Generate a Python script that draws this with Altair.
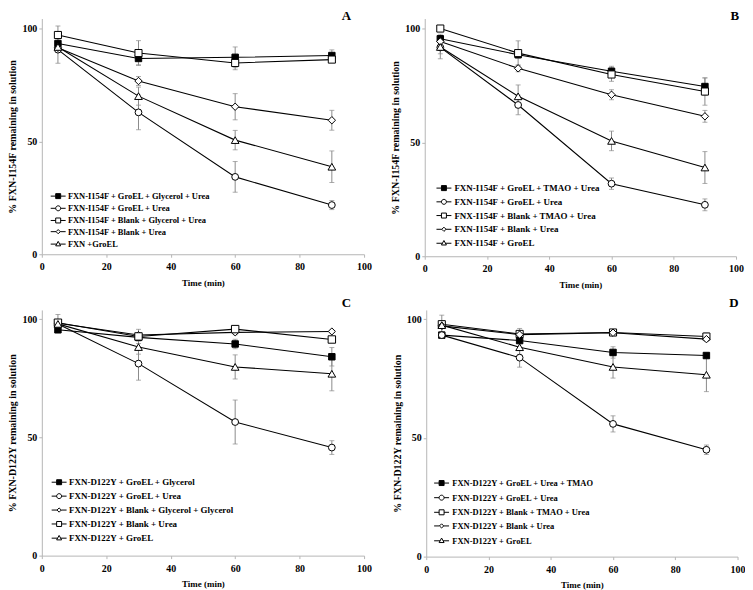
import altair as alt
import pandas as pd

times = [5, 30, 60, 90]

# ---------------- Panel A ----------------
a_series = ["FXN-I154F + GroEL + Glycerol + Urea", "FXN-I154F + GroEL + Urea",
            "FXN-I154F + Blank + Glycerol + Urea", "FXN-I154F + Blank + Urea", "FXN +GroEL"]
a_markers = ["fsq", "circle", "osq", "diamond", "triangle"]
a_values = [
    [93.4, 86.8, 87.3, 88.1],
    [90.7, 62.9, 34.3, 21.8],
    [97.2, 89.2, 84.8, 86.3],
    [91.5, 76.8, 65.4, 59.4],
    [91.9, 70.1, 50.6, 38.8],
]
a_errors = [
    [2.0, 2.8, 4.6, 2.5],
    [6.0, 7.7, 6.8, 2.0],
    [4.0, 5.5, 3.0, 1.0],
    [2.0, 2.0, 5.8, 4.4],
    [2.0, 4.0, 4.3, 7.0],
]

# ---------------- Panel B ----------------
b_series = ["FXN-I154F + GroEL + TMAO + Urea", "FXN-I154F + GroEL + Urea",
            "FNX-I154F + Blank + TMAO + Urea", "FXN-I154F + Blank + Urea", "FXN-I154F + GroEL"]
b_markers = ["fsq", "circle", "osq", "diamond", "triangle"]
b_values = [
    [95.6, 88.6, 81.3, 74.6],
    [91.8, 66.5, 31.9, 22.6],
    [100.1, 89.3, 79.9, 72.4],
    [94.4, 82.6, 71.0, 61.5],
    [92.0, 70.3, 50.7, 39.0],
]
b_errors = [
    [2.0, 1.5, 2.2, 3.8],
    [5.0, 4.3, 2.5, 2.6],
    [1.0, 5.4, 3.0, 6.0],
    [2.0, 1.5, 2.2, 2.6],
    [3.0, 5.0, 4.3, 7.0],
]

# ---------------- Panel C ----------------
c_series = ["FXN-D122Y + GroEL + Glycerol", "FXN-D122Y + GroEL + Urea",
            "FXN-D122Y + Blank + Glycerol + Glycerol", "FXN-D122Y + Blank + Urea", "FXN-D122Y + GroEL"]
c_markers = ["fsq", "circle", "diamond", "osq", "triangle"]
c_values = [
    [95.5, 92.3, 89.5, 84.1],
    [98.0, 81.2, 56.5, 45.7],
    [98.3, 93.3, 94.4, 94.8],
    [98.5, 92.7, 95.8, 91.4],
    [98.0, 88.2, 79.8, 76.9],
]
c_errors = [
    [1.0, 1.5, 2.0, 3.9],
    [1.5, 7.0, 9.3, 2.9],
    [1.0, 1.0, 1.0, 0.5],
    [3.5, 3.0, 1.0, 1.0],
    [1.5, 3.0, 5.1, 7.2],
]

# ---------------- Panel D ----------------
d_series = ["FXN-D122Y + GroEL + Urea + TMAO", "FXN-D122Y + GroEL + Urea",
            "FXN-D122Y + Blank + TMAO + Urea", "FXN-D122Y + Blank + Urea", "FXN-D122Y + GroEL"]
d_markers = ["fsq", "circle", "osq", "diamond", "triangle"]
d_values = [
    [93.3, 91.0, 86.0, 84.7],
    [93.3, 83.8, 55.9, 45.0],
    [97.9, 93.8, 94.4, 92.7],
    [97.2, 93.5, 94.3, 91.6],
    [97.5, 88.2, 79.9, 76.6],
]
d_errors = [
    [1.0, 1.0, 2.4, 1.0],
    [1.0, 4.0, 3.4, 2.0],
    [3.8, 2.3, 1.0, 1.5],
    [1.0, 1.0, 1.0, 1.0],
    [1.0, 3.0, 4.7, 7.1],
]

# ---------------- styles ----------------
FONT = "Liberation Serif"
SHAPE = {"fsq": "square", "osq": "square", "circle": "circle",
         "diamond": "diamond", "triangle": "triangle-up"}
FILL = {"fsq": "black", "osq": "white", "circle": "white",
        "diamond": "white", "triangle": "white"}
SIZE = {"fsq": 42, "osq": 42, "circle": 60, "diamond": 52, "triangle": 49}
LEG_PATH = {
    "fsq": "M-3,0H-1M1,0H3M-1,-1H1V1H-1Z",
    "osq": "M-3,0H-1M1,0H3M-1,-1H1V1H-1Z",
    "circle": "M-3,0H-1M1,0H3M-1,0A1,1,0,1,1,1,0A1,1,0,1,1,-1,0Z",
    "diamond": "M-3,0H-0.85M0.85,0H3M0,-0.85L0.85,0L0,0.85L-0.85,0Z",
    "triangle": "M-3,0.1H-0.6M0.6,0.1H3M0,-1L1,0.8L-1,0.8Z",
}
AXIS_GRAY = "#b5b5b5"
ERR_GRAY = "#8a8a8a"


def panel(series, markers, values, errors, letter, ytitle, w, h, ymax,
          lx, ly, lfont, lrowpad, loff, ldx, ldy, lbase):
    rows = []
    for s, vals, errs in zip(series, values, errors):
        for t, v, e in zip(times, vals, errs):
            rows.append({"series": s, "time": t, "value": v, "lo": v - e, "hi": v + e})
    df = pd.DataFrame(rows)

    xenc = alt.X("time:Q", title="Time (min)",
                 scale=alt.Scale(domain=[0, 100], nice=False),
                 axis=alt.Axis(values=[0, 20, 40, 60, 80, 100], titleFontSize=9,
                               labelFlush=False, labelPadding=4.5, titlePadding=7))
    yscale = alt.Scale(domain=[0, ymax], nice=False)
    yaxis = alt.Axis(values=[0, 50, 100], titleFontSize=10, labelPadding=2, titlePadding=4)

    base = alt.Chart(df)
    err = base.mark_errorbar(ticks=True, size=5, thickness=1, color=ERR_GRAY).encode(
        x=xenc,
        y=alt.Y("lo:Q", title=ytitle, scale=yscale, axis=yaxis),
        y2=alt.Y2("hi:Q"),
        detail="series:N",
    )
    lines = base.mark_line(color="black", strokeWidth=1.1).encode(
        x=xenc,
        y=alt.Y("value:Q", title=ytitle, scale=yscale, axis=yaxis),
        detail="series:N",
    )
    points = base.mark_point(filled=True, opacity=1, stroke="black", strokeWidth=1).encode(
        x=xenc,
        y=alt.Y("value:Q", title=ytitle, scale=yscale, axis=yaxis),
        shape=alt.Shape("series:N", scale=alt.Scale(domain=series, range=[SHAPE[m] for m in markers]), legend=None),
        fill=alt.Fill("series:N", scale=alt.Scale(domain=series, range=[FILL[m] for m in markers]), legend=None),
        size=alt.Size("series:N", scale=alt.Scale(domain=series, range=[SIZE[m] for m in markers]), legend=None),
    )
    legend = alt.Legend(title=None, orient="none", legendX=lx, legendY=ly,
                        labelFont=FONT, labelFontSize=lfont, labelFontWeight="bold",
                        labelColor="black", symbolSize=25, symbolStrokeWidth=1,
                        symbolOpacity=1, labelOffset=loff,
                        rowPadding=lrowpad, padding=0, labelLimit=400)
    leg = base.transform_filter("false").mark_point(filled=True, opacity=1, strokeWidth=1).encode(
        shape=alt.Shape("series:N", scale=alt.Scale(domain=series, range=[LEG_PATH[m] for m in markers]), legend=legend),
        fill=alt.Fill("series:N", scale=alt.Scale(domain=series, range=[FILL[m] for m in markers]), legend=legend),
        stroke=alt.Stroke("series:N", scale=alt.Scale(domain=series, range=["black"] * len(series)), legend=legend),
    )
    lab = alt.Chart(pd.DataFrame({"letter": [letter]})).mark_text(
        align="right", baseline=lbase, font=FONT, fontWeight="bold", fontSize=13, color="black"
    ).encode(text="letter:N", x=alt.value(w + ldx), y=alt.value(ldy))

    return alt.layer(err, lines, points, leg, lab).resolve_scale(
        shape="independent", fill="independent", size="independent", stroke="independent"
    ).properties(width=w, height=h)


ytitle_1 = "% FXN-I154F remaining in solution"
ytitle_2 = "% FXN-D122Y remaining in solution"

pa = panel(a_series, a_markers, a_values, a_errors, "A", ytitle_1, 324, 237, 104.5,
           12.2, 174.3, 8.5, 2.25, 5.5, -13, -9, "top")
pb = panel(b_series, b_markers, b_values, b_errors, "B", ytitle_1, 313, 239, 104.5,
           14.8, 166.0, 9, 3.8, 6.0, 3, -9, "top")
pc = panel(c_series, c_markers, c_values, c_errors, "C", ytitle_2, 324, 247, 103.9,
           12.9, 168.7, 9, 4.0, 5.5, -13, -3, "alphabetic")
pd_ = panel(d_series, d_markers, d_values, d_errors, "D", ytitle_2, 313, 248, 103.9,
            11.2, 169.8, 8.5, 4.7, 6.5, 1, -3, "alphabetic")

chart = alt.vconcat(
    alt.hconcat(pa, pb, spacing=19),
    alt.hconcat(pc, pd_, spacing=20.5),
    spacing=7,
).properties(padding=0, background="white").configure_view(stroke=None).configure_axis(
    labelFont=FONT, labelFontWeight="bold", labelFontSize=10, labelColor="black",
    titleFont=FONT, titleFontWeight="bold", titleColor="black",
    domainColor=AXIS_GRAY, tickColor=AXIS_GRAY, tickSize=3, grid=False,
)

chart.save("out.html", embed_options={"renderer": "svg", "actions": False})
